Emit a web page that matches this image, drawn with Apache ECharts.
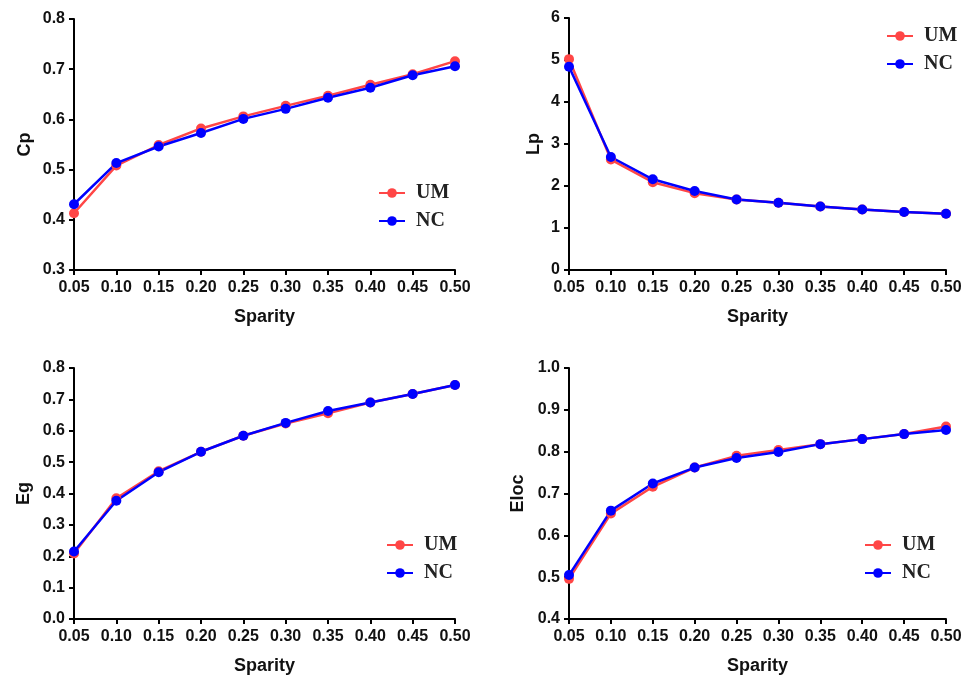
<!DOCTYPE html>
<html>
<head>
<meta charset="utf-8">
<script src="https://cdn.jsdelivr.net/npm/echarts@6/dist/echarts.min.js"></script>
<style>
html,body{margin:0;padding:0;background:#fff;}
#c{width:976px;height:676px;}
</style>
</head>
<body>
<div id="c"></div>
<script>
const sparsity = ['0.05','0.10','0.15','0.20','0.25','0.30','0.35','0.40','0.45','0.50'];
const seriesNames = ['UM','NC'];

const cpUM = [0.413,0.508,0.549,0.582,0.606,0.627,0.647,0.669,0.690,0.716];
const cpNC = [0.431,0.513,0.546,0.573,0.601,0.621,0.643,0.663,0.688,0.706];

const lpUM = [5.02,2.63,2.09,1.83,1.68,1.60,1.51,1.44,1.38,1.34];
const lpNC = [4.84,2.69,2.16,1.88,1.68,1.60,1.51,1.44,1.38,1.34];

const egUM = [0.209,0.385,0.471,0.533,0.584,0.623,0.656,0.690,0.717,0.746];
const egNC = [0.215,0.377,0.468,0.533,0.584,0.625,0.663,0.690,0.717,0.746];

const elocUM = [0.496,0.652,0.716,0.762,0.790,0.804,0.818,0.830,0.842,0.860];
const elocNC = [0.505,0.659,0.724,0.762,0.785,0.799,0.818,0.830,0.842,0.852];

const yTicks = {
  cp: {min:0.3, max:0.8, interval:0.1, digits:1},
  lp: {min:0, max:6, interval:1, digits:0},
  eg: {min:0, max:0.8, interval:0.1, digits:1},
  eloc: {min:0.4, max:1.0, interval:0.1, digits:1}
};

const RED = '#ff4646';
const BLUE = '#0000ff';
const labelFont = {fontFamily:'Liberation Sans, Arial, sans-serif', fontWeight:'bold', fontSize:16, color:'#111'};
const nameFont = {fontFamily:'Liberation Sans, Arial, sans-serif', fontWeight:'bold', fontSize:18, color:'#111'};
const axisLine = {show:true, lineStyle:{color:'#000', width:2}};
const axisTick = {show:true, length:5, lineStyle:{color:'#000', width:2}};

const grids = [
  {left:74, top:19, width:381, height:251},
  {left:569, top:18, width:377, height:252},
  {left:74, top:368, width:381, height:251},
  {left:569, top:368, width:377, height:251}
];
const panels = [
  {name:'Cp', t:yTicks.cp, um:cpUM, nc:cpNC, yGap:40, legend:{left:373, top:178}},
  {name:'Lp', t:yTicks.lp, um:lpUM, nc:lpNC, yGap:26, legend:{left:881, top:21}},
  {name:'Eg', t:yTicks.eg, um:egUM, nc:egNC, yGap:41, legend:{left:381, top:530}},
  {name:'Eloc', t:yTicks.eloc, um:elocUM, nc:elocNC, yGap:42, legend:{left:859, top:530}}
];

const xAxis = [], yAxis = [], series = [], legend = [];
panels.forEach((p, i) => {
  xAxis.push({
    type:'category', gridIndex:i, data:sparsity, boundaryGap:false,
    name:'Sparity', nameLocation:'middle', nameGap:38, nameTextStyle:nameFont,
    axisLine:axisLine, axisTick:Object.assign({alignWithLabel:true}, axisTick),
    axisLabel:Object.assign({margin:10, interval:0}, labelFont),
    splitLine:{show:false}
  });
  yAxis.push({
    type:'value', gridIndex:i, min:p.t.min, max:p.t.max, interval:p.t.interval,
    name:p.name, nameLocation:'middle', nameGap:p.yGap, nameTextStyle:nameFont,
    axisLine:axisLine, axisTick:axisTick,
    axisLabel:Object.assign({margin:9, formatter:v => v.toFixed(p.t.digits)}, labelFont),
    splitLine:{show:false}
  });
  [[seriesNames[0], p.um, RED], [seriesNames[1], p.nc, BLUE]].forEach(([nm, d, col]) => {
    series.push({
      type:'line', name:nm, xAxisIndex:i, yAxisIndex:i, data:d,
      symbol:'circle', symbolSize:10,
      lineStyle:{color:col, width:2.5}, itemStyle:{color:col},
      emphasis:{disabled:true}, animation:false
    });
  });
  legend.push({
    left:p.legend.left, top:p.legend.top, orient:'vertical',
    data:seriesNames, itemWidth:26, itemHeight:12, itemGap:8,
    textStyle:{fontFamily:'Liberation Serif, Times New Roman, serif', fontWeight:'bold', fontSize:20, color:'#222', padding:[0,0,0,6]},
    selectedMode:false
  });
});

const chart = echarts.init(document.getElementById('c'));
chart.setOption({
  backgroundColor:'#fff',
  animation:false,
  grid:grids,
  xAxis:xAxis, yAxis:yAxis, series:series, legend:legend
});
</script>
</body>
</html>
